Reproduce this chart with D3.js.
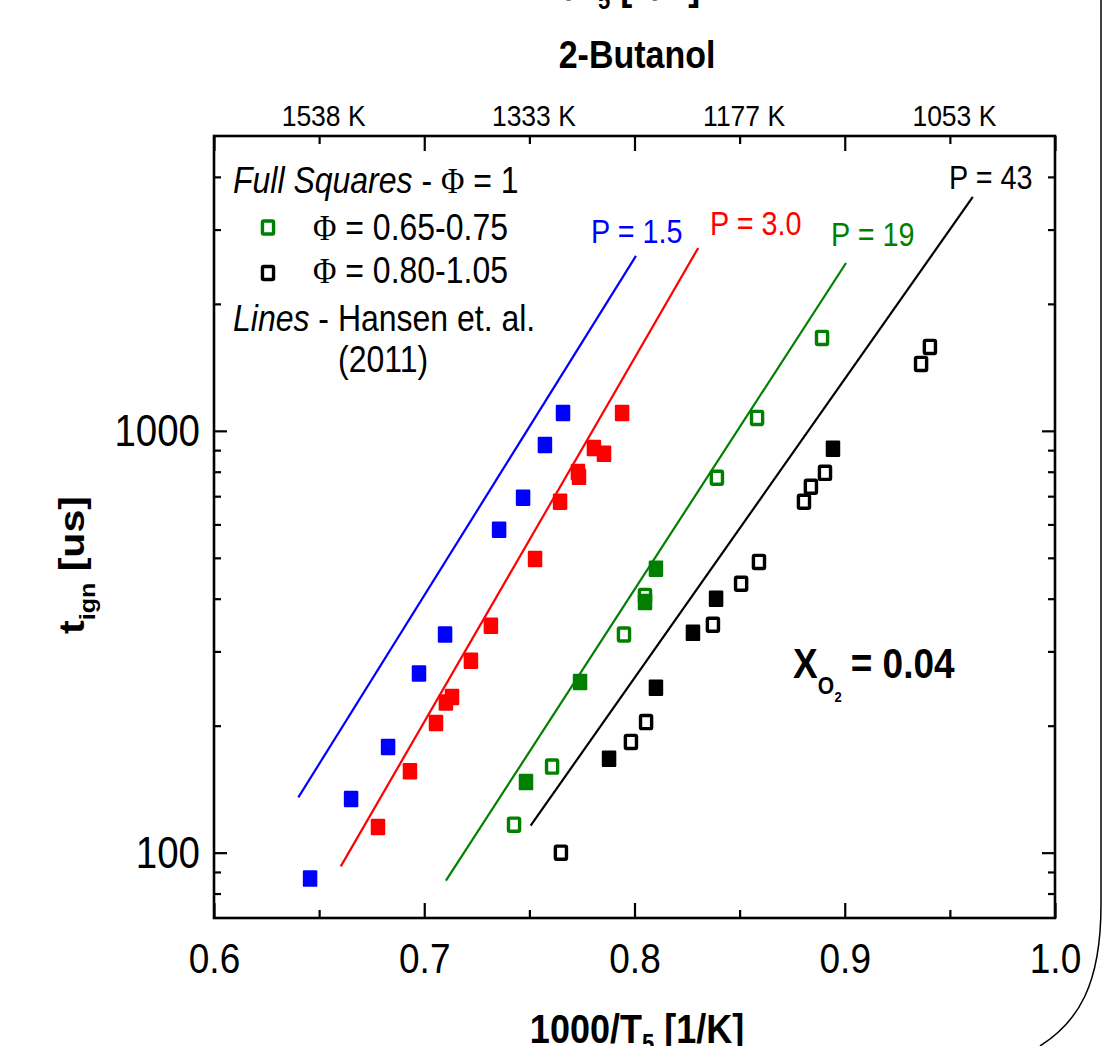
<!DOCTYPE html>
<html>
<head>
<meta charset="utf-8">
<script src="https://cdn.jsdelivr.net/npm/d3@7"></script>
<style>
  html, body { margin: 0; padding: 0; background: #fff; }
  svg { display: block; }
  text { font-family: "Liberation Sans", Arial, sans-serif; }
</style>
</head>
<body>
<script>
// ---------------- data ----------------
const xMajorTicks = [0.6, 0.7, 0.8, 0.9, 1.0];
const xMinorTicks = [0.65, 0.75, 0.85, 0.95];
const topTickValues = [0.65, 0.75, 0.85, 0.95];
const topTickLabels = ["1538 K", "1333 K", "1177 K", "1053 K"];
const yMajorTicks = [100, 1000];
const yMinorTicks = [80, 90, 200, 300, 400, 500, 600, 700, 800, 900, 2000, 3000, 4000];

// [1000/T, t_ign (us)]
const blueFilled = [[0.6457, 86.8], [0.6652, 134], [0.6828, 178], [0.6975, 266], [0.7099, 329],
  [0.7356, 583], [0.7470, 694], [0.7574, 926], [0.7660, 1103]];
const redFilled = [[0.6780, 115], [0.6932, 156], [0.7056, 203], [0.7103, 227], [0.7132, 234],
  [0.7222, 285], [0.7317, 345], [0.7527, 497], [0.7646, 679], [0.7731, 799], [0.7736, 778],
  [0.7807, 911], [0.7855, 882], [0.7941, 1103]];
const greenOpen = [[0.7427, 116.5], [0.7608, 160], [0.7950, 329], [0.8050, 406], [0.8392, 774],
  [0.8583, 1073], [0.8892, 1661]];
const greenFilled = [[0.7484, 147], [0.7741, 254], [0.8050, 393], [0.8102, 471]];
const blackFilled = [[0.7879, 167], [0.8102, 246], [0.8278, 332], [0.8388, 400], [0.8944, 907]];
const blackOpen = [[0.7650, 100], [0.7983, 183], [0.8055, 204], [0.8373, 347], [0.8507, 434],
  [0.8592, 489], [0.8806, 679], [0.8839, 737], [0.8906, 795], [0.9363, 1441], [0.9405, 1581]];

// Hansen et al. (2011) correlations: endpoints [1000/T, t_ign]
const lineP15 = [[0.6401, 135.2], [0.8007, 2598]];
const lineP30 = [[0.6603, 92.8], [0.8303, 2714]];
const lineP19 = [[0.7103, 85.8], [0.9006, 2500]];
const lineP43 = [[0.7506, 115.9], [0.9609, 3585]];
const lineLabels = ["P = 1.5", "P = 3.0", "P = 19", "P = 43"];

// ---------------- layout ----------------
const W = 1108, H = 1046;
const L = 214, R = 1055, T = 136, B = 918;
const SY = 1.14; // vertical stretch of the original picture
const BLUE = "#0000ff", RED = "#ff0000", GREEN = "#008000", BLACK = "#000000";

const svg = d3.select("body").append("svg").attr("width", W).attr("height", H);

const x = d3.scaleLinear().domain([0.6, 1.0]).range([L, R]);
const y = d3.scaleLog().domain([70, 5000]).range([B, T]);

function txt(px, py, size, opts = {}) {
  const t = svg.append("text")
    .attr("transform", `translate(${px},${py}) scale(1,${SY})`)
    .attr("font-size", size)
    .attr("text-anchor", opts.anchor || "start")
    .attr("font-weight", opts.bold ? "bold" : "normal")
    .attr("fill", opts.color || BLACK);
  if (opts.italic) t.attr("font-style", "italic");
  if (opts.text !== undefined) t.text(opts.text);
  return t;
}

// ---------------- axes ----------------
const tickStyle = g => {
  g.select(".domain").remove();
  g.selectAll(".tick line").attr("stroke", BLACK).attr("stroke-width", 2.2);
};

// bottom
svg.append("g").attr("transform", `translate(0,${B})`)
  .call(d3.axisBottom(x).tickValues(xMajorTicks).tickSize(-15).tickFormat(d3.format(".1f")))
  .call(tickStyle)
  .call(g => g.selectAll(".tick text")
    .attr("y", null).attr("dy", null)
    .attr("transform", `translate(0,55) scale(1,${SY})`)
    .attr("font-size", 37).attr("fill", BLACK)
    .attr("font-family", '"Liberation Sans", Arial, sans-serif'));
svg.append("g").attr("transform", `translate(0,${B})`)
  .call(d3.axisBottom(x).tickValues(xMinorTicks).tickSize(-8).tickFormat(""))
  .call(tickStyle);

// top
svg.append("g").attr("transform", `translate(0,${T})`)
  .call(d3.axisTop(x).tickValues(xMajorTicks).tickSize(-15).tickFormat(""))
  .call(tickStyle);
svg.append("g").attr("transform", `translate(0,${T})`)
  .call(d3.axisTop(x).tickValues(topTickValues).tickSize(-8)
    .tickFormat((d, i) => topTickLabels[i]))
  .call(tickStyle)
  .call(g => g.selectAll(".tick text")
    .attr("y", null).attr("dy", null)
    .attr("transform", `translate(4,-10) scale(1,${SY})`)
    .attr("font-size", 26.5).attr("fill", BLACK)
    .attr("font-family", '"Liberation Sans", Arial, sans-serif'));

// left
svg.append("g").attr("transform", `translate(${L},0)`)
  .call(d3.axisLeft(y).tickValues(yMajorTicks).tickSize(-13).tickFormat(d3.format("d")))
  .call(tickStyle)
  .call(g => g.selectAll(".tick text")
    .attr("x", null).attr("dy", null)
    .attr("transform", `translate(-14,15) scale(1,${SY})`)
    .attr("font-size", 38.5).attr("fill", BLACK)
    .attr("font-family", '"Liberation Sans", Arial, sans-serif'));
svg.append("g").attr("transform", `translate(${L},0)`)
  .call(d3.axisLeft(y).tickValues(yMinorTicks).tickSize(-7).tickFormat(""))
  .call(tickStyle);

// right
svg.append("g").attr("transform", `translate(${R},0)`)
  .call(d3.axisRight(y).tickValues(yMajorTicks).tickSize(-13).tickFormat(""))
  .call(tickStyle);
svg.append("g").attr("transform", `translate(${R},0)`)
  .call(d3.axisRight(y).tickValues(yMinorTicks).tickSize(-7).tickFormat(""))
  .call(tickStyle);

// frame
svg.append("rect").attr("x", L).attr("y", T).attr("width", R - L).attr("height", B - T)
  .attr("fill", "none").attr("stroke", BLACK).attr("stroke-width", 2.6);

// ---------------- lines ----------------
const lineGen = d3.line().x(d => x(d[0])).y(d => y(d[1]));
[[lineP15, BLUE], [lineP30, RED], [lineP19, GREEN], [lineP43, BLACK]].forEach(([d, c]) => {
  svg.append("path").datum(d).attr("d", lineGen)
    .attr("fill", "none").attr("stroke", c).attr("stroke-width", 2.2);
});

// ---------------- markers ----------------
const FW = 14.5, FH = 16.5;
function filled(data, color) {
  svg.append("g").selectAll("rect").data(data).join("rect")
    .attr("x", d => x(d[0]) - FW / 2).attr("y", d => y(d[1]) - FH / 2)
    .attr("width", FW).attr("height", FH).attr("rx", 1.2)
    .attr("fill", color);
}
function open(data, color) {
  svg.append("g").selectAll("rect").data(data).join("rect")
    .attr("x", d => x(d[0]) - (FW - 3.4) / 2).attr("y", d => y(d[1]) - (FH - 3.4) / 2)
    .attr("width", FW - 3.4).attr("height", FH - 3.4).attr("rx", 1.2)
    .attr("fill", "#fff").attr("stroke", color).attr("stroke-width", 3.4);
}
open(greenOpen, GREEN);
filled(greenFilled, GREEN);
filled(blueFilled, BLUE);
filled(redFilled, RED);
open(blackOpen, BLACK);
filled(blackFilled, BLACK);

// ---------------- line labels ----------------
txt(591, 243, 28.8, { text: lineLabels[0], color: BLUE });
txt(710, 235, 28.8, { text: lineLabels[1], color: RED });
txt(831, 246, 28.8, { text: lineLabels[2], color: GREEN });
txt(949, 189, 28.8, { text: lineLabels[3], color: BLACK });

// ---------------- legend ----------------
const lg1 = txt(233, 193, 32);
lg1.append("tspan").attr("font-style", "italic").text("Full Squares");
lg1.append("tspan").text(" - ");
lg1.append("tspan").attr("font-family", '"Liberation Serif", "Times New Roman", serif').text("Φ");
lg1.append("tspan").text(" = 1");

const legendMarkers = [[GREEN, 227.5], [BLACK, 273]];
legendMarkers.forEach(([c, cy]) => {
  svg.append("rect").attr("x", 268 - (FW - 3.4) / 2).attr("y", cy - (FH - 3.4) / 2)
    .attr("width", FW - 3.4).attr("height", FH - 3.4).attr("rx", 1.2)
    .attr("fill", "#fff").attr("stroke", c).attr("stroke-width", 3.4);
});
const lg2 = txt(313, 240, 32);
lg2.append("tspan").attr("font-family", '"Liberation Serif", "Times New Roman", serif').text("Φ");
lg2.append("tspan").text(" = 0.65-0.75");
const lg3 = txt(313, 283, 32);
lg3.append("tspan").attr("font-family", '"Liberation Serif", "Times New Roman", serif').text("Φ");
lg3.append("tspan").text(" = 0.80-1.05");
const lg4 = txt(233, 331, 32);
lg4.append("tspan").attr("font-style", "italic").text("Lines");
lg4.append("tspan").text(" - Hansen et. al.");
txt(338, 372, 32, { text: "(2011)" });

// ---------------- X_O2 annotation ----------------
const xo = txt(793, 678, 37, { bold: true });
xo.append("tspan").text("X");
xo.append("tspan").attr("font-size", 21).attr("dy", 14).text("O");
xo.append("tspan").attr("font-size", 13).attr("dy", 7).attr("dx", 0.5).text("2");
xo.append("tspan").attr("dy", -21).attr("dx", 9).text("= 0.04");

// ---------------- titles ----------------
txt(637, 68, 34, { text: "2-Butanol", bold: true, anchor: "middle" });

const xt = txt(637, 1043, 36, { bold: true, anchor: "middle" });
xt.append("tspan").text("1000/T");
xt.append("tspan").attr("font-size", 22).attr("dy", 8).text("5");
xt.append("tspan").attr("dy", -8).text(" [1/K]");

// fragment of the title of the panel above (cut by the page edge)
const xt2 = txt(486, 0, 36, { bold: true });
xt2.append("tspan").text("1000/T");
xt2.append("tspan").attr("font-size", 22).attr("dy", 8).text("5");
xt2.append("tspan").attr("dy", -8).text(" [1/K]");

const yt = svg.append("text")
  .attr("transform", `translate(84,634) rotate(-90) scale(${SY},1)`)
  .attr("font-size", 36).attr("font-weight", "bold").attr("fill", BLACK);
yt.append("tspan").text("t");
yt.append("tspan").attr("font-size", 22).attr("dy", 11).text("ign");
yt.append("tspan").attr("dy", -11).text(" [us]");

// ---------------- page border curve ----------------
svg.append("path")
  .attr("d", "M1101,0 L1101,905 C1101,985 1078,1022 1040,1046")
  .attr("fill", "none").attr("stroke", BLACK).attr("stroke-width", 1.5);
</script>
</body>
</html>
